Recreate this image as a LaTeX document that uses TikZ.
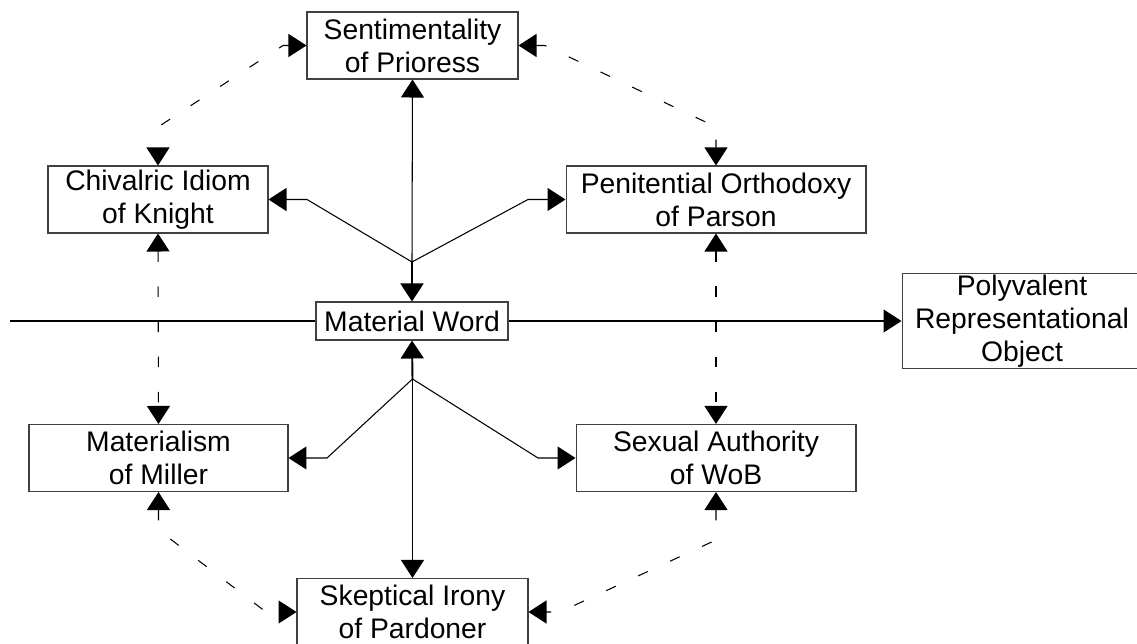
\documentclass[tikz,border=0pt]{standalone}
\usepackage{fontspec}
\setmainfont{Liberation Sans}
\usetikzlibrary{%
  arrows.meta,%
  positioning,%
  calc
}

\begin{document}
\begin{tikzpicture}
  [
  x=0.02cm, y=-0.02cm,
  line width=0.6pt, draw=black, >={Triangle[length=0.36cm, width=0.46cm]},
  talebox/.style={draw=black!75, fill=white, align=center, inner sep=0pt,
    minimum height=1.34cm, font=\fontsize{16.1}{18.9}\selectfont},
  linkline/.style={->},
  echoline/.style={<->, dash pattern=on 6pt off 14pt}
  ]
  \useasboundingbox (0,0) rectangle (1137,644);

  % the word in the middle and where it leads
  \node[talebox, minimum width=3.84cm, minimum height=0.76cm] (mword) at (412,321) {Material Word};
  \node[talebox, minimum width=4.8cm, minimum height=1.9cm] (poly) at (1022,321)
    {Polyvalent\\Representational\\Object};
  \coordinate (lineend) at (10,321);
  \draw (lineend) -- (mword.west);
  \draw[->] (mword.east) -- (poly.west);

  % the six tales round it
  \node[talebox, minimum width=4.22cm] (prioress) at (412.5,45.5) {Sentimentality\\of Prioress};
  \node[talebox, minimum width=4.4cm] (knight) at (158,199.5) {Chivalric Idiom\\of Knight};
  \node[talebox, minimum width=6.0cm] (parson) at (716,199.5) {Penitential Orthodoxy\\of Parson};
  \node[talebox, minimum width=5.18cm] (miller) at (158.5,458) {Materialism\\of Miller};
  \node[talebox, minimum width=5.6cm] (wob) at (716,458) {Sexual Authority\\of WoB};
  \node[talebox, minimum width=4.62cm] (pardoner) at (412.5,612) {Skeptical Irony\\of Pardoner};

  % upper fork
  \coordinate (uphub) at (412,262);
  \coordinate (upknight) at (307,199.5);
  \coordinate (upparson) at (528,199.5);
  \draw[linkline] (uphub) -- (prioress.south);
  \draw[linkline, line width=1.1pt] (uphub) -- (mword.north);
  \draw[linkline] (uphub) -- (upknight) -- (knight.east);
  \draw[linkline] (uphub) -- (upparson) -- (parson.west);

  % lower fork
  \coordinate (lowhub) at (412.5,379);
  \coordinate (lowmiller) at (327,458);
  \coordinate (lowwob) at (538,458);
  \draw[linkline, line width=1.1pt] (lowhub) -- (mword.south);
  \draw[linkline] (lowhub) -- (pardoner.north);
  \draw[linkline] (lowhub) -- (lowmiller) -- (miller.east);
  \draw[linkline] (lowhub) -- (lowwob) -- (wob.west);

  % dashed ring
  \coordinate (tl1) at (283,45.5);
  \coordinate (tl2) at (158,127);
  \coordinate (tr1) at (545,45.5);
  \coordinate (tr2) at (716,127);
  \coordinate (bl1) at (158.5,530);
  \coordinate (bl2) at (266,612);
  \coordinate (br1) at (716,540);
  \coordinate (br2) at (560,612);
  \draw[echoline] (prioress.west) -- (tl1) -- (tl2) -- (knight.north);
  \draw[echoline] (prioress.east) -- (tr1) -- (tr2) -- (parson.north);
  \draw[echoline] (knight.south) -- (miller.north);
  \draw[echoline] (parson.south) -- (wob.north);
  \draw[echoline] (miller.south) -- (bl1) -- (bl2) -- (pardoner.west);
  \draw[echoline] (wob.south) -- (br1) -- (br2) -- (pardoner.east);
\end{tikzpicture}
\end{document}
